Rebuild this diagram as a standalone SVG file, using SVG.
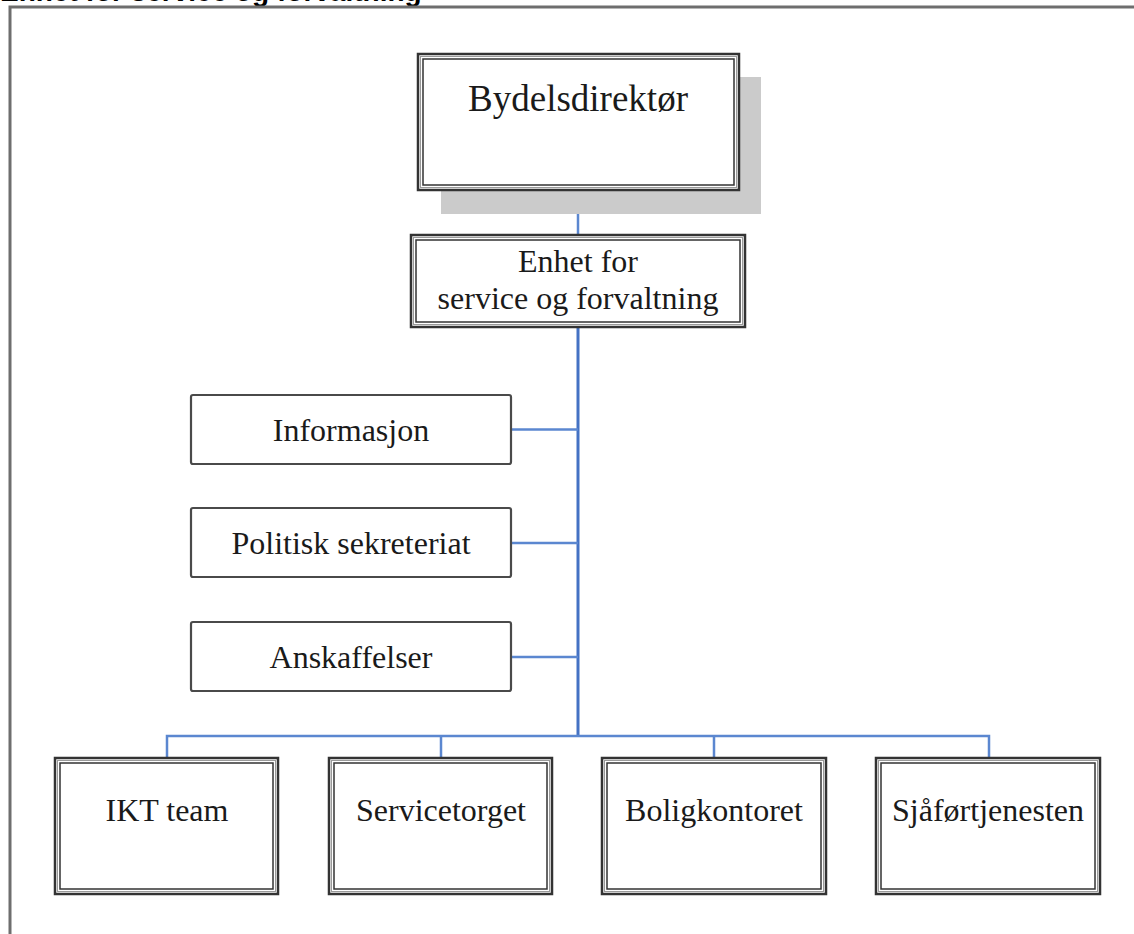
<svg xmlns="http://www.w3.org/2000/svg" width="1134" height="934" viewBox="0 0 1134 934">
  <style>
    .frame { stroke: #6e6e6e; stroke-width: 3; fill: none; }
    .title { font-family: "Liberation Sans", Arial, sans-serif; font-weight: bold; font-size: 28px; fill: #000; }
    .lbl { font-family: "Liberation Serif", "Times New Roman", serif; fill: #1a1a1a; text-anchor: middle; }
    .outer { fill: #fff; stroke: #333; stroke-width: 2.5; }
    .mid { fill: none; stroke: #9a9a9a; stroke-width: 1; }
    .inner { fill: none; stroke: #333; stroke-width: 1.5; }
    .single { fill: #fff; stroke: #4a4a4a; stroke-width: 2.2; }
    .shadow { fill: #cbcbcb; }
    .conn { stroke: #5b87d0; stroke-width: 2.5; fill: none; }
    .trunk { stroke: #4472c4; stroke-width: 3; fill: none; }
  </style>

  <rect x="0" y="0" width="1134" height="934" fill="#fff"/>

  <!-- page title, clipped at the top edge -->
  <text class="title" x="0" y="1">Enhet for service og forvaltning</text>

  <!-- page frame -->
  <path class="frame" d="M10 934 V7 H1134"/>

  <!-- connectors -->
  <g id="connectors">
    <line class="conn" x1="578" y1="191" x2="578" y2="235"/>
    <line class="trunk" x1="578" y1="328" x2="578" y2="737"/>
    <line class="conn" x1="511" y1="429.5" x2="578" y2="429.5"/>
    <line class="conn" x1="511" y1="543" x2="578" y2="543"/>
    <line class="conn" x1="511" y1="657" x2="578" y2="657"/>
    <polyline class="conn" points="167,758 167,736 989,736 989,758"/>
    <line class="conn" x1="441" y1="736" x2="441" y2="758"/>
    <line class="conn" x1="714" y1="736" x2="714" y2="758"/>
  </g>

  <!-- top level -->
  <g id="bydelsdirektor">
    <rect class="shadow" x="441" y="77" width="320" height="137"/>
    <rect class="outer" x="418" y="54" width="321" height="136"/>
    <rect class="mid" x="420.5" y="56.5" width="316" height="131"/>
    <rect class="inner" x="423" y="59" width="311" height="126"/>
    <text class="lbl" x="578" y="111" font-size="37">Bydelsdirektør</text>
  </g>

  <g id="enhet">
    <rect class="outer" x="411" y="235" width="334" height="92"/>
    <rect class="mid" x="413.5" y="237.5" width="329" height="87"/>
    <rect class="inner" x="416" y="240" width="324" height="82"/>
    <text class="lbl" x="578" y="272" font-size="32">Enhet for</text>
    <text class="lbl" x="578" y="309" font-size="32">service og forvaltning</text>
  </g>

  <!-- staff functions -->
  <g id="informasjon">
    <rect class="single" x="191" y="395" width="320" height="69" rx="2"/>
    <text class="lbl" x="351" y="441" font-size="32">Informasjon</text>
  </g>
  <g id="politisk">
    <rect class="single" x="191" y="508" width="320" height="69" rx="2"/>
    <text class="lbl" x="351" y="554" font-size="32">Politisk sekreteriat</text>
  </g>
  <g id="anskaffelser">
    <rect class="single" x="191" y="622" width="320" height="69" rx="2"/>
    <text class="lbl" x="351" y="668" font-size="32">Anskaffelser</text>
  </g>

  <!-- line units -->
  <g id="ikt">
    <rect class="outer" x="55" y="758" width="223" height="136"/>
    <rect class="mid" x="57.5" y="760.5" width="218" height="131"/>
    <rect class="inner" x="60" y="763" width="213" height="126"/>
    <text class="lbl" x="167" y="821" font-size="32">IKT team</text>
  </g>
  <g id="servicetorget">
    <rect class="outer" x="329" y="758" width="223" height="136"/>
    <rect class="mid" x="331.5" y="760.5" width="218" height="131"/>
    <rect class="inner" x="334" y="763" width="213" height="126"/>
    <text class="lbl" x="441" y="821" font-size="32">Servicetorget</text>
  </g>
  <g id="boligkontoret">
    <rect class="outer" x="602" y="758" width="224" height="136"/>
    <rect class="mid" x="604.5" y="760.5" width="219" height="131"/>
    <rect class="inner" x="607" y="763" width="214" height="126"/>
    <text class="lbl" x="714" y="821" font-size="32">Boligkontoret</text>
  </g>
  <g id="sjafor">
    <rect class="outer" x="876" y="758" width="224" height="136"/>
    <rect class="mid" x="878.5" y="760.5" width="219" height="131"/>
    <rect class="inner" x="881" y="763" width="214" height="126"/>
    <text class="lbl" x="988" y="821" font-size="32">Sjåførtjenesten</text>
  </g>
</svg>
